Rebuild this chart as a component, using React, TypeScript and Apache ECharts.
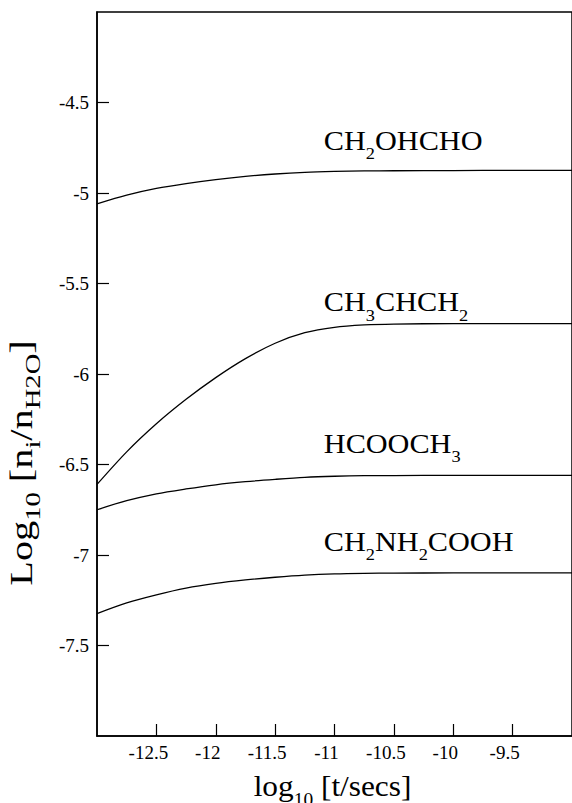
import React, { useEffect, useRef } from "react";
import * as echarts from "echarts";

const timeValues = [-13, -12.75, -12.5, -12.25, -12, -11.75, -11.5, -11.25, -11, -10.75, -10.5, -10, -9.5, -9];
const ch2ohcho = [-5.06, -5.012, -4.975, -4.948, -4.926, -4.908, -4.895, -4.886, -4.881, -4.878, -4.877, -4.876, -4.875, -4.875];
const ch3chch2 = [-6.61, -6.43, -6.275, -6.14, -6.02, -5.915, -5.83, -5.772, -5.742, -5.729, -5.724, -5.722, -5.722, -5.722];
const hcooch3 = [-6.75, -6.7, -6.662, -6.635, -6.612, -6.595, -6.582, -6.571, -6.565, -6.562, -6.561, -6.56, -6.56, -6.56];
const ch2nh2cooh = [-7.324, -7.265, -7.22, -7.183, -7.157, -7.138, -7.123, -7.111, -7.104, -7.101, -7.1, -7.099, -7.099, -7.099];

const seriesNames = ["CH{s|2}OHCHO", "CH{s|3}CHCH{s|2}", "HCOOCH{s|3}", "CH{s|2}NH{s|2}COOH"];
const seriesValues = [ch2ohcho, ch3chch2, hcooch3, ch2nh2cooh];
// label anchor (data coords: x of left edge, y of text baseline)
const labelX = -11.09;
const labelBaselines = [-4.762, -5.654, -6.436, -6.979];

const xTitle = "log{s|10} [t/secs]";
const yTitle = "Log{s|10} [n{s|i}/n{s|H2O}]";

const FONT = "Liberation Serif, Times New Roman, Times, serif";

export default function App() {
  const ref = useRef<HTMLDivElement>(null);
  useEffect(() => {
    if (!ref.current) return;
    const chart = echarts.init(ref.current, null, { renderer: "svg" });
    const axisCommon = {
      type: "value" as const,
      interval: 0.5,
      axisLine: { show: true, lineStyle: { color: "#000", width: 1.5 } },
      axisTick: { show: true, inside: true, length: 12, lineStyle: { color: "#000", width: 1.2 } },
      splitLine: { show: false },
    };
    const labelStyle = (extra: any) => ({
      color: "#000",
      fontFamily: FONT,
      fontSize: 19,
      margin: 8,
      showMinLabel: false,
      showMaxLabel: false,
      formatter: (v: number) => String(v),
      ...extra,
    });
    chart.setOption({
      animation: false,
      backgroundColor: "#fff",
      textStyle: { fontFamily: FONT },
      grid: {
        left: 97,
        top: 12,
        right: -8,
        bottom: 67,
        show: true,
        borderColor: "#000",
        borderWidth: 1.5,
      },
      xAxis: { ...axisCommon, min: -13, max: -9, axisLabel: labelStyle({ padding: [0, 16, 0, 0], margin: 7 }) },
      yAxis: { ...axisCommon, min: -8, max: -4, axisLabel: labelStyle({}) },
      series: seriesValues.map((vals, i) => ({
        type: "line",
        name: seriesNames[i],
        data: timeValues.map((t, j) => [t, vals[j]]),
        smooth: 0.3,
        showSymbol: false,
        symbol: "none",
        lineStyle: { color: "#000", width: 1.3 },
      })),
    });

    const sub = (size: number, pad: number) => ({ fontFamily: FONT, fontSize: size, padding: [pad, 0, 0, 0] });
    const graphics: any[] = [];
    seriesNames.forEach((name, i) => {
      const p = chart.convertToPixel({ gridIndex: 0 }, [labelX, labelBaselines[i]]) as number[];
      graphics.push({
        type: "text",
        x: p[0],
        y: p[1] - 9.5,
        scaleX: 1.08,
        style: {
          text: name,
          fontFamily: FONT,
          fontSize: 28,
          fill: "#000",
          align: "left",
          verticalAlign: "middle",
          rich: { s: sub(17, 26) },
        },
      });
    });
    const c0 = chart.convertToPixel({ gridIndex: 0 }, [-13, -8]) as number[];
    const c1 = chart.convertToPixel({ gridIndex: 0 }, [-9, -4]) as number[];
    graphics.push({
      type: "text",
      x: (c0[0] + c1[0]) / 2 - 2,
      y: 796.5 - 9.8,
      scaleX: 1.08,
      style: {
        text: xTitle,
        fontFamily: FONT,
        fontSize: 29,
        fill: "#000",
        align: "center",
        verticalAlign: "middle",
        rich: { s: sub(18, 26) },
      },
    });
    graphics.push({
      type: "text",
      x: 21.5,
      y: 463,
      rotation: Math.PI / 2,
      scaleX: 1.3,
      style: {
        text: yTitle,
        fontFamily: FONT,
        fontSize: 31,
        fill: "#000",
        align: "center",
        verticalAlign: "middle",
        rich: { s: sub(22, 22) },
      },
    });
    chart.setOption({ graphic: graphics });
    return () => chart.dispose();
  }, []);
  return <div ref={ref} style={{ position: "absolute", left: 0, top: 0, width: 572, height: 803 }} />;
}
